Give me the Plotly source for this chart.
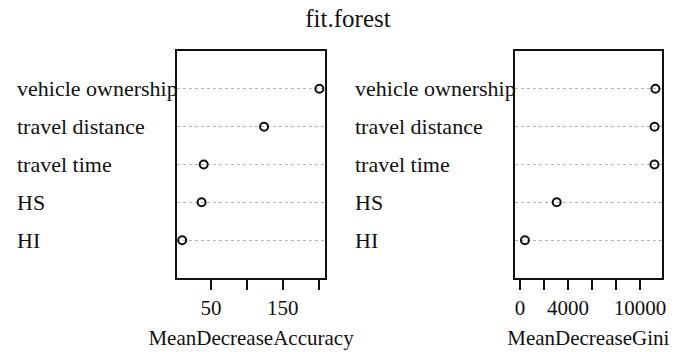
import plotly.graph_objects as go

# Variable importance from the random forest model (bottom to top)
variables = ["HI", "HS", "travel time", "travel distance", "vehicle ownership"]
mean_decrease_accuracy = [10, 37, 40, 124, 201]
mean_decrease_gini = [400, 3050, 11210, 11220, 11290]

acc_ticks = [50, 100, 150, 200]
acc_tick_text = ["50", "", "150", ""]
gini_ticks = [0, 2000, 4000, 6000, 8000, 10000]
gini_tick_text = ["0", "", "4000", "", "", "10000"]

rows = list(range(1, len(variables) + 1))

FONT = "Liberation Serif, Times New Roman, serif"
INK = "#111111"

fig = go.Figure()

marker = dict(symbol="circle-open", size=8, color=INK, line=dict(width=2, color=INK))
fig.add_trace(go.Scatter(x=mean_decrease_accuracy, y=rows, mode="markers",
                         marker=marker, xaxis="x", yaxis="y", showlegend=False))
fig.add_trace(go.Scatter(x=mean_decrease_gini, y=rows, mode="markers",
                         marker=marker, xaxis="x2", yaxis="y2", showlegend=False))

y_dom = [1 - 278 / 352, 1 - 51 / 352]
x1_dom = [178 / 698, 327 / 698]
x2_dom = [517.7 / 698, 665.7 / 698]

common_x = dict(showline=True, mirror=True, linecolor=INK, linewidth=1.6,
                ticks="outside", ticklen=10, tickwidth=1.6, tickcolor=INK,
                showgrid=False, zeroline=False,
                tickfont=dict(family=FONT, size=21, color=INK),
                title_font=dict(family=FONT, size=21, color=INK))
common_y = dict(showline=True, mirror=True, linecolor=INK, linewidth=1.6,
                range=[0, 6], tickvals=rows, showticklabels=False, ticks="",
                showgrid=True, gridcolor="#b4b4b4", griddash="dot", gridwidth=1,
                zeroline=False, domain=y_dom)

fig.update_layout(
    width=698, height=352,
    margin=dict(l=0, r=0, t=0, b=0),
    paper_bgcolor="white", plot_bgcolor="white",
    xaxis=dict(common_x, domain=x1_dom, range=[2.8, 209],
               tickvals=acc_ticks, ticktext=acc_tick_text,
               title=dict(text="MeanDecreaseAccuracy", standoff=11), anchor="y"),
    yaxis=dict(common_y, anchor="x"),
    xaxis2=dict(common_x, domain=x2_dom, range=[-450, 11830],
                tickvals=gini_ticks, ticktext=gini_tick_text,
                title=dict(text="MeanDecreaseGini", standoff=11), anchor="y2"),
    yaxis2=dict(common_y, anchor="x2"),
    title=dict(text="fit.forest", x=348 / 698, xanchor="center",
               y=1 - 18 / 352, yanchor="middle",
               font=dict(family=FONT, size=25, color=INK)),
)

# Row labels, left aligned beside each panel
for label_x, yref in [(15 / 698, "y"), (355 / 698, "y2")]:
    for name, r in zip(variables, rows):
        fig.add_annotation(text=name, x=label_x, xref="paper", xanchor="left",
                           y=r, yref=yref, yanchor="middle", showarrow=False,
                           font=dict(family=FONT, size=22, color=INK))

fig.write_html("out.html")
